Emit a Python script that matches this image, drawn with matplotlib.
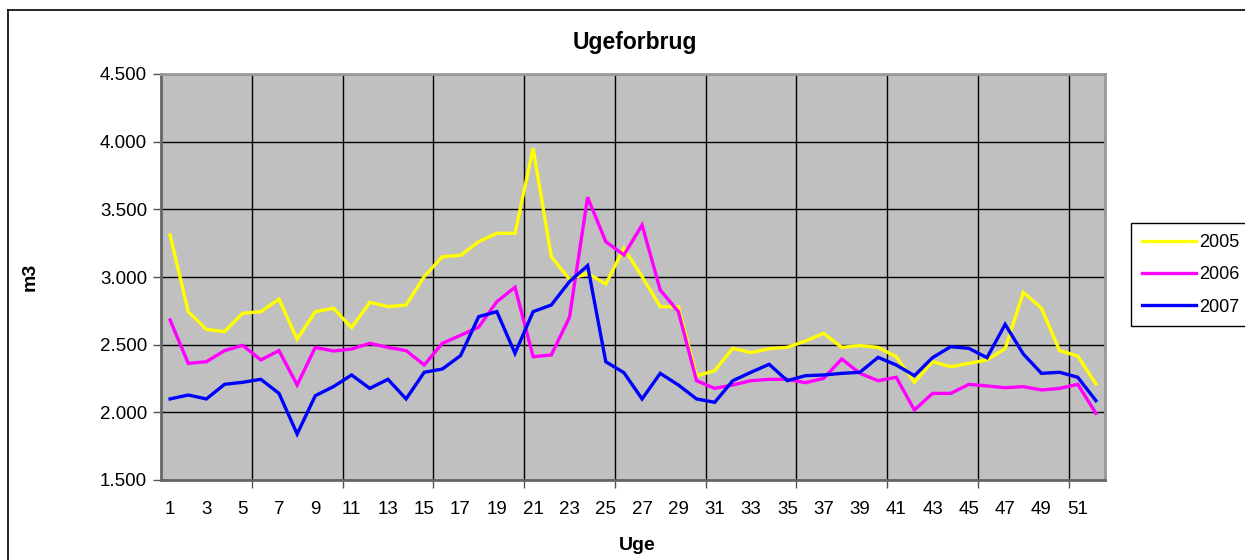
import matplotlib
matplotlib.use("Agg")
import matplotlib.pyplot as plt
from matplotlib.ticker import FixedLocator, FuncFormatter
from matplotlib.lines import Line2D

weeks = list(range(1, 53))
y2005 = [3310, 2744, 2613, 2596, 2732, 2744, 2837, 2540, 2744, 2769,
         2626, 2813, 2781, 2793, 3003, 3150, 3160, 3261, 3323, 3323,
         3951, 3150, 2983, 3027, 2948, 3212, 3003, 2781, 2781, 2269,
         2308, 2473, 2441, 2470, 2480, 2527, 2584, 2480, 2493, 2480,
         2411, 2222, 2374, 2337, 2362, 2387, 2470, 2887, 2769, 2456,
         2416, 2209]
y2006 = [2682, 2362, 2374, 2456, 2495, 2387, 2456, 2202, 2480, 2453,
         2468, 2510, 2480, 2456, 2350, 2510, 2569, 2630, 2818, 2924,
         2411, 2424, 2702, 3589, 3261, 3163, 3384, 2904, 2744, 2234,
         2177, 2202, 2234, 2244, 2244, 2219, 2251, 2394, 2288, 2234,
         2259, 2017, 2140, 2140, 2207, 2195, 2182, 2190, 2165, 2177,
         2207, 1993]
y2007 = [2099, 2128, 2099, 2207, 2222, 2244, 2140, 1840, 2123, 2190,
         2276, 2177, 2244, 2099, 2296, 2320, 2419, 2707, 2744, 2436,
         2744, 2793, 2966, 3084, 2374, 2293, 2099, 2288, 2202, 2099,
         2074, 2234, 2296, 2355, 2234, 2271, 2276, 2288, 2296, 2406,
         2350, 2271, 2404, 2485, 2473, 2404, 2650, 2431, 2288, 2296,
         2259, 2086]
series_names = ["2005", "2006", "2007"]
series_colors = ["#FFFF00", "#FF00FF", "#0000FF"]
yticks = [1500, 2000, 2500, 3000, 3500, 4000, 4500]
xlabels = list(range(1, 53, 2))

plt.rcParams['font.family'] = ['Liberation Sans', 'DejaVu Sans']

W, H = 1245, 560
fig = plt.figure(figsize=(W / 100, H / 100), dpi=100)
ax = fig.add_axes([161 / W, 1 - 480 / H, (1105 - 161) / W, (480 - 74) / H])
ax.set_facecolor("#C0C0C0")

for vals, name, col in zip([y2005, y2006, y2007], series_names, series_colors):
    ax.plot(weeks, vals, color=col, lw=2.4, label=name, solid_joinstyle='miter', zorder=3)

ax.set_xlim(0.5, 52.5)
ax.set_ylim(1500, 4500)
ax.yaxis.set_major_locator(FixedLocator(yticks))
ax.yaxis.set_major_formatter(FuncFormatter(lambda v, p: f"{int(v):,}".replace(",", ".")))
ax.xaxis.set_major_locator(FixedLocator(xlabels))
ax.xaxis.set_minor_locator(FixedLocator([0.5 + 5 * k for k in range(1, 11)]))
ax.tick_params(axis='x', which='major', length=0, pad=15, labelsize=13.5)
ax.tick_params(axis='x', which='minor', length=6, width=1, color='#555555', direction='out')
ax.tick_params(axis='y', which='major', length=6, width=1, color='#555555', direction='out',
               pad=4, labelsize=13.5)
ax.grid(True, axis='y', which='major', color='black', lw=1, zorder=1)
ax.grid(True, axis='x', which='minor', color='black', lw=1, zorder=1)
ax.set_axisbelow(True)
for s in ['left', 'bottom']:
    ax.spines[s].set_color('#666666')
    ax.spines[s].set_linewidth(2)
for s in ['top', 'right']:
    ax.spines[s].set_color('#999999')
    ax.spines[s].set_linewidth(2)

fig.text(635 / W, 1 - 42 / H, "Ugeforbrug", ha='center', va='center', fontsize=16.5, fontweight='bold')
fig.text(30 / W, 1 - 277 / H, "m3", ha='center', va='center', rotation=90, fontsize=14, fontweight='bold')
fig.text(637 / W, 1 - 545 / H, "Uge", ha='center', va='center', fontsize=14, fontweight='bold')

# outer chart border
fig.add_artist(Line2D([8 / W, 8 / W], [0, 1 - 10 / H], color='black', lw=1.2, transform=fig.transFigure))
fig.add_artist(Line2D([8 / W, 1], [1 - 10 / H, 1 - 10 / H], color='black', lw=1.2, transform=fig.transFigure))

leg = ax.legend(loc='upper left', bbox_to_anchor=(1131 / W, 1 - 223 / H), bbox_transform=fig.transFigure,
                frameon=True, fancybox=False, edgecolor='black', framealpha=1, fontsize=13,
                handlelength=3.0, handletextpad=0.15, borderpad=0.6, labelspacing=0.85,
                borderaxespad=0)
leg.get_frame().set_linewidth(1)

fig.savefig("out.png", dpi=100)
